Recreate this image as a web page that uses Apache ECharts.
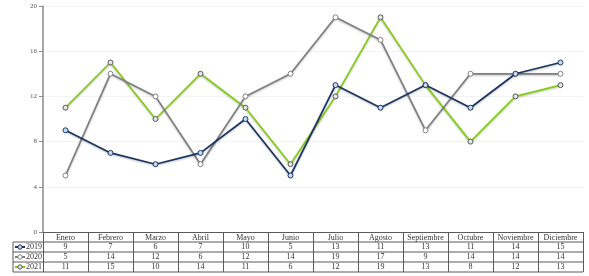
<!DOCTYPE html>
<html>
<head>
<meta charset="utf-8">
<script src="https://cdn.jsdelivr.net/npm/echarts@6/dist/echarts.min.js"></script>
<style>
  html, body { margin: 0; padding: 0; background: #fff; }
  #chart { width: 589px; height: 276px; }
</style>
</head>
<body>
<div id="chart"></div>
<script>
// meses y valores por año
const months = ['Enero', 'Febrero', 'Marzo', 'Abril', 'Mayo', 'Junio', 'Julio', 'Agosto', 'Septiembre', 'Octubre', 'Noviembre', 'Diciembre'];
const years = ['2019', '2020', '2021'];
const values2019 = [9, 7, 6, 7, 10, 5, 13, 11, 13, 11, 14, 15];
const values2020 = [5, 14, 12, 6, 12, 14, 19, 17, 9, 14, 14, 14];
const values2021 = [11, 15, 10, 14, 11, 6, 12, 19, 13, 8, 12, 13];
const yTicks = [0, 4, 8, 12, 16, 20];

const rows = [values2019, values2020, values2021];
const colors = ['#1a355e', '#7f7f7f', '#84cc16'];
const fillColors = ['#c9dcef', '#ffffff', '#e6e6e6'];
const font = '"Liberation Serif", "DejaVu Serif", serif';
const lineColor = '#5a5a5a';

const chart = echarts.init(document.getElementById('chart'));

chart.setOption({
  animation: false,
  grid: { left: 43, right: 6, top: 6, bottom: 44 },
  xAxis: {
    type: 'category',
    data: months,
    boundaryGap: true,
    axisLine: { lineStyle: { color: lineColor, width: 1 } },
    axisTick: { show: true, length: 40, lineStyle: { color: lineColor, width: 1 } },
    axisLabel: { interval: 0, margin: 2, fontSize: 8, color: '#333', fontFamily: font }
  },
  yAxis: {
    type: 'value',
    min: yTicks[0],
    max: yTicks[yTicks.length - 1],
    interval: 4,
    axisLine: { show: true, lineStyle: { color: '#8a8a8a', width: 1.5 } },
    axisTick: { show: true, length: 4, lineStyle: { color: '#8a8a8a' } },
    axisLabel: { fontSize: 7, color: '#555', fontFamily: font, margin: 6 },
    splitLine: { lineStyle: { color: '#f3f3f3' } }
  },
  series: years.map((y, i) => ({
    name: y,
    type: 'line',
    data: rows[i],
    symbol: 'circle',
    symbolSize: 5,
    lineStyle: {
      color: colors[i], width: 1.7,
      shadowColor: 'rgba(0,0,0,0.25)', shadowBlur: 2, shadowOffsetY: 1
    },
    itemStyle: { color: fillColors[i], borderColor: i === 2 ? '#555' : colors[i], borderWidth: 1 },
    z: 3 - i
  }))
});

// tabla de datos bajo el eje
const xs = months.map((m) => chart.convertToPixel({ xAxisIndex: 0 }, m));
const axisY = chart.convertToPixel({ yAxisIndex: 0 }, 0);
const right = 583, keyLeft = 13, rowH = 10;
const elements = [];

for (let r = 0; r < 4; r++) {
  const y = axisY + rowH * (r + 1);
  elements.push({
    type: 'line', silent: true,
    shape: { x1: keyLeft, y1: y, x2: right, y2: y },
    style: { stroke: lineColor, lineWidth: 1 }
  });
}
elements.push({
  type: 'line', silent: true,
  shape: { x1: keyLeft, y1: axisY + rowH, x2: keyLeft, y2: axisY + rowH * 4 },
  style: { stroke: lineColor, lineWidth: 1 }
});

years.forEach((yr, i) => {
  const cy = axisY + rowH * (i + 1) + rowH / 2;
  elements.push({
    type: 'line', silent: true,
    shape: { x1: 15, y1: cy, x2: 25, y2: cy },
    style: { stroke: colors[i], lineWidth: 2 }
  });
  elements.push({
    type: 'circle', silent: true,
    shape: { cx: 20, cy: cy, r: 2.2 },
    style: { fill: fillColors[i], stroke: i === 2 ? '#555' : colors[i], lineWidth: 1 }
  });
  elements.push({
    type: 'text', silent: true,
    x: 42, y: cy,
    style: { text: yr, fontSize: 8, fontFamily: font, fill: '#333', align: 'right', verticalAlign: 'middle' }
  });
  rows[i].forEach((v, j) => {
    elements.push({
      type: 'text', silent: true,
      x: xs[j], y: cy,
      style: { text: String(v), fontSize: 8, fontFamily: font, fill: '#333', align: 'center', verticalAlign: 'middle' }
    });
  });
});

chart.setOption({ graphic: elements });
</script>
</body>
</html>
